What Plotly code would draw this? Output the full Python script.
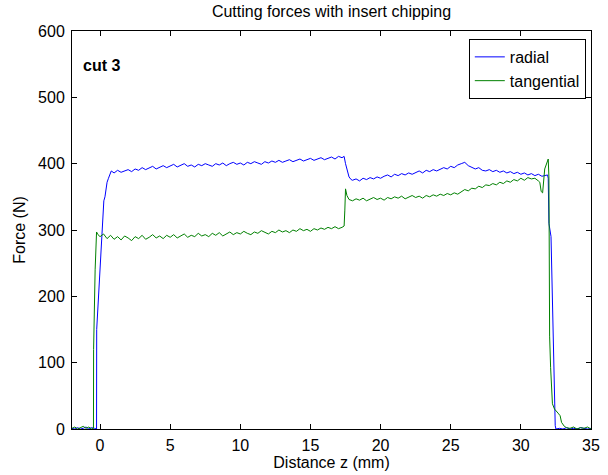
import plotly.graph_objects as go

# ---- radial force (N) versus distance z (mm) ----
radial_z = [
    -2.0, -1.8, -1.6, -1.4, -1.2, -1.0, -0.8, -0.6, -0.4, -0.25,
    -0.24, 0.0, 0.27, 0.35, 0.5, 0.6, 0.8, 1.0,
    1.25, 1.5, 1.75, 2.0, 2.25, 2.5, 2.75, 3.0, 3.25, 3.5, 3.75, 4.0, 4.25, 4.5, 4.75,
    5.0, 5.25, 5.5, 5.75, 6.0, 6.25, 6.5, 6.75, 7.0, 7.25, 7.5, 7.75, 8.0, 8.25, 8.5, 8.75,
    9.0, 9.25, 9.5, 9.75, 10.0, 10.25, 10.5, 10.75, 11.0, 11.25, 11.5, 11.75, 12.0, 12.25,
    12.5, 12.75, 13.0, 13.25, 13.5, 13.75, 14.0, 14.25, 14.5, 14.75, 15.0, 15.25, 15.5,
    15.75, 16.0, 16.25, 16.5, 16.75, 17.0, 17.25,
    17.4, 17.5, 17.6, 17.75, 17.9,
    18.0, 18.25, 18.5, 18.75, 19.0, 19.25, 19.5, 19.75, 20.0, 20.25, 20.5, 20.75, 21.0,
    21.25, 21.5, 21.75, 22.0, 22.25, 22.5, 22.75, 23.0, 23.25, 23.5, 23.75, 24.0, 24.25,
    24.5, 24.75, 25.0, 25.25, 25.5, 25.75, 26.0, 26.25, 26.5, 26.75, 27.0, 27.25, 27.5,
    27.75, 28.0, 28.25, 28.5, 28.75, 29.0, 29.25, 29.5, 29.75, 30.0, 30.25, 30.5, 30.75,
    31.0, 31.25, 31.5, 31.75,
    31.9, 31.95, 32.0, 32.15, 32.25, 32.35, 32.45, 32.5,
    32.75, 33.0, 33.25, 33.5, 33.75, 34.0, 34.25, 34.5, 34.75, 35.0,
]
radial_force = [
    1, 0, 2, 0, 1, 3, 0, 2, 1, 0,
    150, 250, 344, 350, 372, 378, 389, 386,
    390, 387, 389, 391, 388, 392, 390, 394, 391, 393, 396, 392, 395, 397, 394,
    396, 399, 395, 397, 400, 396, 398, 395, 399, 397, 400, 398, 396, 400, 398, 401,
    397, 400, 402, 399, 401, 398, 402, 400, 403, 401, 399, 403, 401, 404,
    402, 405, 402, 404, 406, 403, 405, 407, 404, 406, 408, 405, 407,
    409, 406, 408, 410, 407, 411, 409,
    411, 400, 392, 380, 376,
    375, 377, 374, 378, 376, 379, 377, 380, 378, 381, 383, 380, 384,
    382, 385, 383, 386, 384, 387, 389, 386, 390, 388, 391, 389, 392,
    394, 392, 396, 394, 398, 400, 402, 397, 395, 392, 394, 390, 389,
    391, 388, 390, 387, 389, 386, 388, 385, 387, 384, 386, 383, 385,
    382, 384, 381, 383,
    383, 378, 310, 290, 200, 80, 5, 0,
    1, 0, 2, 0, 1, 0, 2, 1, 0, 1,
]

# ---- tangential force (N) versus distance z (mm) ----
tangential_z = [
    -2.0, -1.8, -1.6, -1.4, -1.2, -1.0, -0.8, -0.6, -0.47,
    -0.46, -0.42, -0.35, -0.25, -0.15, 0.0, 0.25,
    0.5, 0.75, 1.0, 1.25, 1.5, 1.75, 2.0, 2.25, 2.5, 2.75, 3.0, 3.25, 3.5, 3.75, 4.0,
    4.25, 4.5, 4.75, 5.0, 5.25, 5.5, 5.75, 6.0, 6.25, 6.5, 6.75, 7.0, 7.25, 7.5, 7.75,
    8.0, 8.25, 8.5, 8.75, 9.0, 9.25, 9.5, 9.75, 10.0, 10.25, 10.5, 10.75, 11.0, 11.25,
    11.5, 11.75, 12.0, 12.25, 12.5, 12.75, 13.0, 13.25, 13.5, 13.75, 14.0, 14.25, 14.5,
    14.75, 15.0, 15.25, 15.5, 15.75, 16.0, 16.25, 16.5, 16.75, 17.0, 17.25,
    17.4, 17.45, 17.5, 17.6, 17.75,
    18.0, 18.25, 18.5, 18.75, 19.0, 19.25, 19.5, 19.75, 20.0, 20.25, 20.5, 20.75, 21.0,
    21.25, 21.5, 21.75, 22.0, 22.25, 22.5, 22.75, 23.0, 23.25, 23.5, 23.75, 24.0, 24.25,
    24.5, 24.75, 25.0, 25.25, 25.5, 25.75, 26.0, 26.25, 26.5, 26.75, 27.0, 27.25, 27.5,
    27.75, 28.0, 28.25, 28.5, 28.75, 29.0, 29.25, 29.5, 29.75, 30.0, 30.25, 30.5, 30.75,
    31.0, 31.25,
    31.35, 31.45, 31.55, 31.7, 31.85, 31.95, 32.0, 32.05, 32.12, 32.25, 32.4, 32.5,
    32.65, 32.8, 32.9, 33.1, 33.25, 33.5, 33.75, 34.0, 34.25, 34.5, 34.75, 35.0,
]
tangential_force = [
    1, 3, 0, 2, 4, 1, 3, 0, 1,
    120, 190, 240, 297, 293, 290, 294,
    287, 292, 286, 290, 285, 291, 288, 284, 290, 287, 292, 286, 289, 293, 288,
    291, 287, 292, 289, 293, 288, 291, 294, 289, 292, 290, 295, 291, 293, 290,
    295, 292, 296, 291, 294, 297, 293, 296, 294, 298, 295, 293, 297, 295,
    299, 296, 294, 298, 296, 300, 297, 299, 296, 300, 298, 302, 299,
    301, 298, 302, 300, 303, 301, 304, 302, 305, 302, 304,
    306, 330, 362, 352, 346,
    344, 347, 345, 348, 344, 347, 349, 346, 348, 345, 349, 347, 350,
    348, 351, 347, 350, 352, 349, 351, 348, 352, 350, 353, 351, 354,
    352, 355, 353, 356, 354, 358, 361, 359, 363, 362, 366, 364, 368,
    367, 370, 368, 372, 370, 374, 372, 376, 374, 378, 375, 379, 377,
    378, 374,
    372, 358, 356, 392, 400, 407, 380, 140, 93, 38, 30, 27,
    24, 20, 10, 4, 2, 1, 3, 0, 2, 1, 3, 0,
]

x_ticks = [0, 5, 10, 15, 20, 25, 30, 35]
y_ticks = [0, 100, 200, 300, 400, 500, 600]

FONT = "Liberation Sans, Arial, sans-serif"
FS = 16

fig = go.Figure()
fig.add_trace(go.Scatter(
    x=radial_z, y=radial_force, mode="lines", name="radial",
    line=dict(color="#0000FF", width=1),
))
fig.add_trace(go.Scatter(
    x=tangential_z, y=tangential_force, mode="lines", name="tangential",
    line=dict(color="#008000", width=1),
))

axis_common = dict(
    showgrid=False, zeroline=False, automargin=False,
    showline=True, linecolor="black", linewidth=1, mirror="ticks",
    ticks="inside", ticklen=5, tickcolor="black", tickwidth=1,
    tickfont=dict(family=FONT, size=FS, color="black"),
)

fig.update_layout(
    width=608, height=475,
    margin=dict(l=72, r=17, t=31, b=46),
    paper_bgcolor="white", plot_bgcolor="white",
    font=dict(family=FONT, size=FS, color="black"),
    title=dict(
        text="Cutting forces with insert chipping",
        xref="paper", x=0.5, xanchor="center",
        yref="container", y=0.976, yanchor="middle",
        font=dict(family=FONT, size=FS, color="black"),
    ),
    xaxis=dict(
        range=[-2, 35], tickvals=x_ticks, ticklabelstandoff=2,
        title=dict(text="Distance z (mm)", standoff=2,
                   font=dict(family=FONT, size=FS)),
        **axis_common,
    ),
    yaxis=dict(
        range=[0, 600], tickvals=y_ticks, ticklabelstandoff=3,
        title=dict(text="Force (N)", standoff=8,
                   font=dict(family=FONT, size=FS)),
        **axis_common,
    ),
    legend=dict(
        x=0.99, y=0.98, xanchor="right", yanchor="top",
        bgcolor="white", bordercolor="black", borderwidth=1,
        font=dict(family=FONT, size=FS, color="black"),
        tracegroupgap=0,
    ),
    showlegend=True,
)

fig.add_annotation(
    x=-1.35, y=548, xref="x", yref="y",
    text="<b>cut 3</b>", showarrow=False,
    xanchor="left", yanchor="middle",
    font=dict(family=FONT, size=FS, color="black"),
)

fig.write_html("out.html")
